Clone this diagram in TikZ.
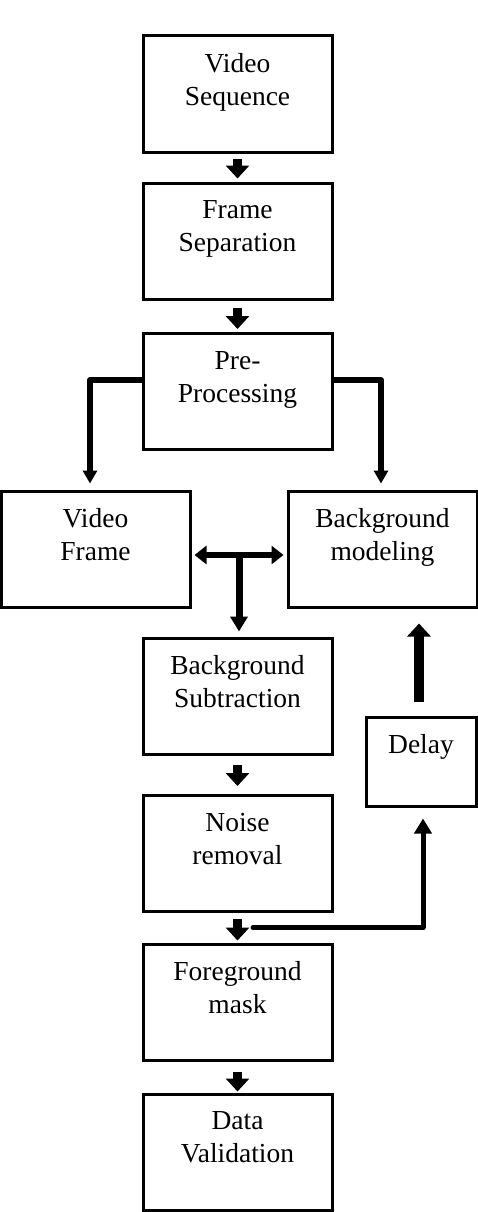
\documentclass[tikz,border=0pt]{standalone}
\usepackage{fontspec}
\setmainfont{Liberation Serif}
\usetikzlibrary{arrows.meta,calc}
\begin{document}
\begin{tikzpicture}[x=1pt,y=-1pt,
  box/.style={draw=black,line width=3pt,minimum width=189pt,minimum height=116pt,inner sep=0pt},
  smallbox/.style={draw=black,line width=3pt,minimum width=110pt,minimum height=89pt,inner sep=0pt},
  lbl/.style={anchor=north,align=center,inner sep=0pt,font=\fontsize{27.5}{33}\selectfont},
  blockarrow/.style={line width=9pt,-{Triangle[width=23pt,length=13pt]}},
  branch/.style={line width=6pt,line join=round,-{Triangle[width=14pt,length=13pt]}},
]
\useasboundingbox (0,0) rectangle (478,1212);
% boxes
\node[box] (vs) at (237.5,94) {};
\node[box] (fs) at (237.5,241) {};
\node[box] (pp) at (237.5,391.5) {};
\node[box] (vf) at (95.5,549) {};
\node[box] (bm) at (382.5,549) {};
\node[box] (bs) at (237.5,696) {};
\node[box] (nr) at (237.5,853.5) {};
\node[box] (fm) at (237.5,1002) {};
\node[box] (dv) at (237.5,1152) {};
\node[smallbox] (dl) at (421,761.5) {};
% labels
\node[lbl] (tvs) at ($(vs.north)+(0,19)$) {Video\\Sequence};
\node[lbl] (tfs) at ($(fs.north)+(0,19)$) {Frame\\Separation};
\node[lbl] (tpp) at ($(pp.north)+(0,19)$) {Pre-\\Processing};
\node[lbl] (tvf) at ($(vf.north)+(0,19)$) {Video\\Frame};
\node[lbl] (tbm) at ($(bm.north)+(0,19)$) {Background\\modeling};
\node[lbl] (tbs) at ($(bs.north)+(0,19)$) {Background\\Subtraction};
\node[lbl] (tnr) at ($(nr.north)+(0,19)$) {Noise\\removal};
\node[lbl] (tfm) at ($(fm.north)+(0,19)$) {Foreground\\mask};
\node[lbl] (tdv) at ($(dv.north)+(0,19)$) {Data\\Validation};
\node[lbl] (tdl) at ($(dl.north)+(0,19)$) {Delay};
% block arrows in main column
\draw[blockarrow,shorten <=5pt,shorten >=3pt] (vs.south) -- (fs.north);
\draw[blockarrow,shorten <=7pt,shorten >=3pt] (fs.south) -- (pp.north);
\draw[blockarrow,shorten <=9pt,shorten >=8pt] (bs.south) -- (nr.north);
\draw[blockarrow,shorten <=6pt,shorten >=2pt] (nr.south) -- (fm.north);
\draw[blockarrow,shorten <=10pt,shorten >=1pt] (fm.south) -- (dv.north);
% branches from pre-processing
\draw[branch] ($(pp.west)+(0,-11.5)$) -| ($(vf.north)+(-5.5,-6)$);
\draw[branch] ($(pp.east)+(0,-11.5)$) -| ($(bm.north)+(-1.5,-6)$);
% double arrow and junction
\coordinate (j) at ($(vf.east)!0.5!(bm.west)+(0,6)$);
\draw[line width=6pt,{Triangle[width=18pt,length=12pt]}-{Triangle[width=18pt,length=12pt]},shorten <=3pt,shorten >=3pt]
  ($(vf.east)+(0,6)$) -- ($(bm.west)+(0,6)$);
\draw[line width=7pt,-{Triangle[width=17pt,length=15pt]},shorten >=5pt] (j) -- (j |- bs.north);
% delay to background modeling
\coordinate (d1) at ($(dl.north)+(-2,-14)$);
\draw[line width=10pt,-{Triangle[width=23pt,length=13pt]},shorten >=15pt] (d1) -- (d1 |- bm.south);
% feedback to delay
\coordinate (fb) at ($(nr.south)!0.5!(fm.north)+(15.5,0)$);
\draw[line width=5pt,line cap=round,line join=round,-{Triangle[width=17pt,length=15pt]}]
  (fb) -| ($(dl.south)+(2,11)$);
\end{tikzpicture}
\end{document}
